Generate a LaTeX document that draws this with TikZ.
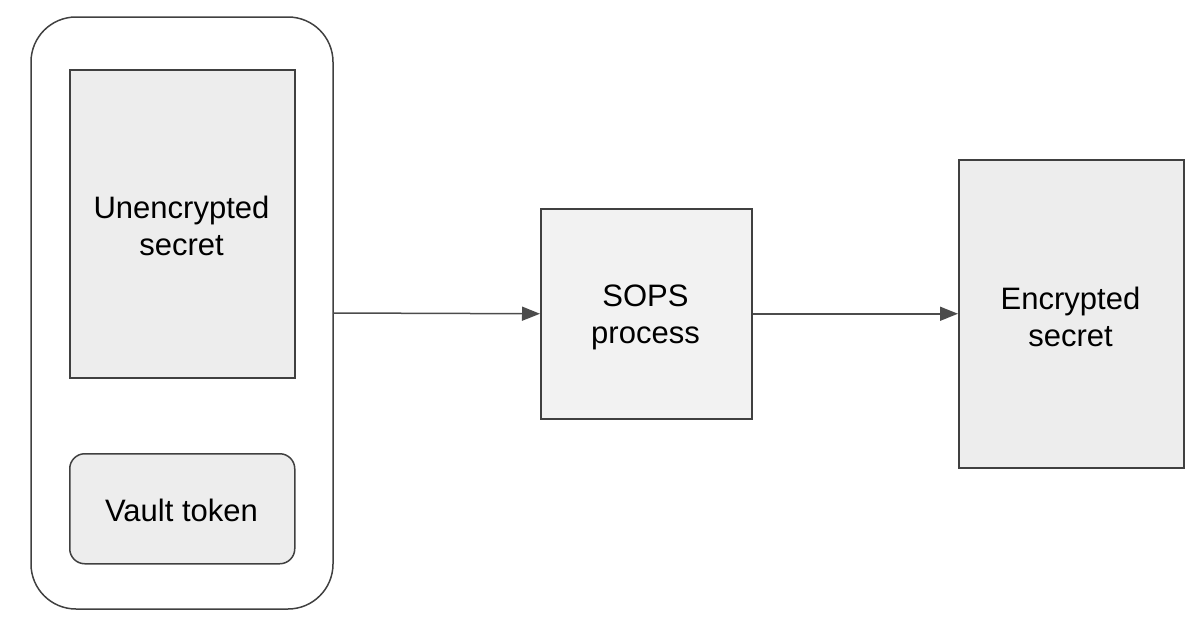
\documentclass[tikz,border=0pt]{standalone}
\usepackage{fontspec}
\setmainfont{Liberation Sans}
\usetikzlibrary{arrows.meta}
\begin{document}
\begin{tikzpicture}[x=1pt,y=-1pt,
  box/.style={draw=black!75,line width=1.5pt,fill=black!7},
  lbl/.style={font=\fontsize{31}{37}\selectfont,align=center},
  arr/.style={draw=black!70,line width=1.5pt,-{Triangle[length=18pt,width=14pt]}}]
\useasboundingbox (0,0) rectangle (1200,629);
\draw[draw=black!75,line width=1.5pt,rounded corners=45pt] (31,17) rectangle (333,609);
\node[box,minimum width=225pt,minimum height=308pt,anchor=north west,inner sep=0pt] (u) at (69,69) {};
\node[lbl] at (181.5,226) {Unencrypted\\secret};
\node[box,rounded corners=15pt,minimum width=225pt,minimum height=110pt,anchor=north west,inner sep=0pt] (v) at (69,453) {};
\node[lbl] at (181.5,510) {Vault token};
\coordinate (c) at (333,313);
\node[box,fill=black!5,minimum width=211pt,minimum height=210pt,anchor=north west,inner sep=0pt] (s) at (540,208) {};
\node[lbl] at (645.5,317) {SOPS\\process};
\node[box,minimum width=225pt,minimum height=308pt,anchor=north west,inner sep=0pt] (e) at (958,159) {};
\node[lbl] at (1070.5,317) {Encrypted\\secret};
\draw[arr] (c) -- (s.west);
\draw[arr] (s.east) -- (e.west);
\end{tikzpicture}
\end{document}
